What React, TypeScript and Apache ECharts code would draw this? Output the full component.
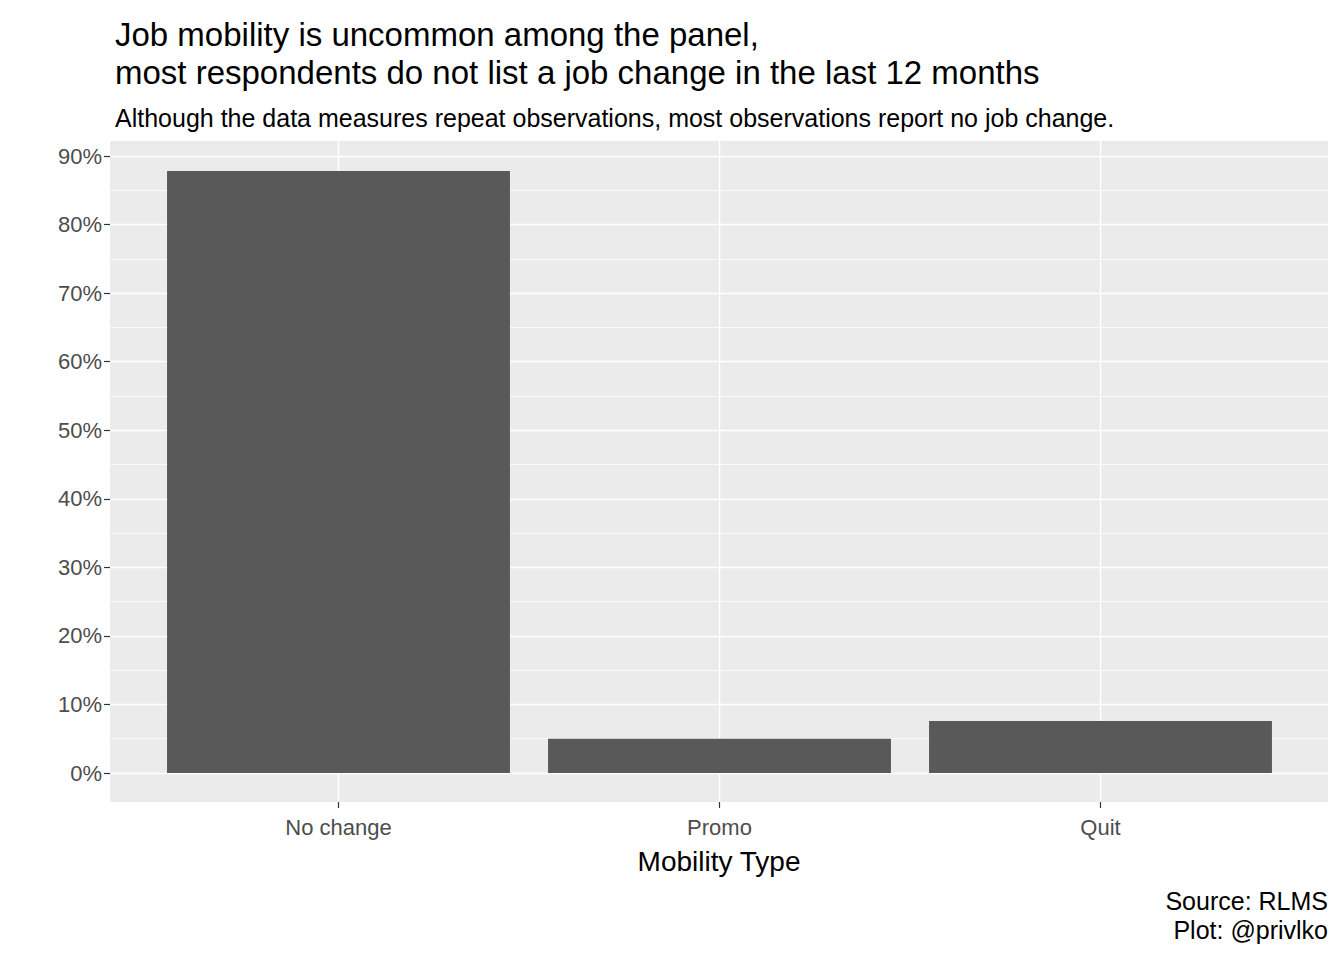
import React, { useEffect, useRef } from "react";
import * as echarts from "echarts";

const categories = ["No change", "Promo", "Quit"];
const shares = [87.8, 5.0, 7.6];
const yTicks = [0, 10, 20, 30, 40, 50, 60, 70, 80, 90];

const FONT = "'Liberation Sans', Arial, sans-serif";

export default function App() {
  const chartRef = useRef<HTMLDivElement>(null);

  useEffect(() => {
    if (!chartRef.current) return;
    const chart = echarts.init(chartRef.current, undefined, { renderer: "svg" });

    chart.setOption({
      animation: false,
      textStyle: { fontFamily: FONT },
      title: [
        {
          text: "Job mobility is uncommon among the panel,\nmost respondents do not list a job change in the last 12 months",
          left: 110,
          top: 10,
          textStyle: { fontSize: 33, fontWeight: "normal", color: "#000", lineHeight: 38, fontFamily: FONT },
        },
        {
          text: "Although the data measures repeat observations, most observations report no job change.",
          left: 110,
          top: 100,
          textStyle: { fontSize: 25, fontWeight: "normal", color: "#000", fontFamily: FONT },
        },
      ],
      graphic: [
        {
          type: "rect",
          z: -10,
          shape: { x: 110, y: 141, width: 1218, height: 661 },
          style: { fill: "#EBEBEB" },
          silent: true,
        },
        {
          type: "text",
          x: 719,
          y: 861,
          style: { text: "Mobility Type", fontSize: 28, fill: "#000", align: "center", verticalAlign: "middle", fontFamily: FONT },
        },
        {
          type: "text",
          x: 1328,
          y: 901,
          style: { text: "Source: RLMS", fontSize: 25, fill: "#000", align: "right", verticalAlign: "middle", fontFamily: FONT },
        },
        {
          type: "text",
          x: 1328,
          y: 930,
          style: { text: "Plot: @privlko", fontSize: 25, fill: "#000", align: "right", verticalAlign: "middle", fontFamily: FONT },
        },
      ],
      grid: [
        { left: 110, right: 16, top: 156, bottom: 187 },
        { left: 148, right: 53, top: 156, bottom: 187 },
        { left: 338.5, right: 243.5, top: 141, bottom: 158 },
      ],
      xAxis: [
        { type: "value", gridIndex: 0, show: false, min: 0, max: 1 },
        { type: "category", gridIndex: 1, data: categories, show: false },
        {
          type: "category",
          gridIndex: 2,
          data: categories,
          boundaryGap: false,
          axisLine: { show: true, lineStyle: { color: "#333", opacity: 0 } },
          axisTick: { show: true, length: 6, lineStyle: { color: "#333", width: 1.2 } },
          axisLabel: { color: "#4D4D4D", fontSize: 22, margin: 14, fontFamily: FONT },
          splitLine: { show: true, lineStyle: { color: "#fff", width: 1.4 } },
        },
      ],
      yAxis: [
        {
          type: "value",
          gridIndex: 0,
          min: yTicks[0],
          max: yTicks[yTicks.length - 1],
          interval: 10,
          axisLine: { show: false },
          axisTick: { show: true, length: 6, lineStyle: { color: "#333", width: 1.2 } },
          axisLabel: { color: "#4D4D4D", fontSize: 22, margin: 8, formatter: "{value}%", fontFamily: FONT },
          splitLine: { lineStyle: { color: "#fff", width: 1.4 } },
          minorTick: { show: false, splitNumber: 2 },
          minorSplitLine: { show: true, lineStyle: { color: "#fff", width: 0.7 } },
        },
        { type: "value", gridIndex: 1, min: 0, max: 90, show: false },
        { type: "value", gridIndex: 2, min: 0, max: 1, show: false },
      ],
      series: [
        {
          type: "bar",
          xAxisIndex: 1,
          yAxisIndex: 1,
          data: shares,
          barWidth: "90%",
          z: 3,
          itemStyle: { color: "#595959" },
        },
      ],
    });

    return () => chart.dispose();
  }, []);

  return (
    <div
      ref={chartRef}
      style={{ position: "absolute", left: 0, top: 0, width: 1344, height: 960 }}
    />
  );
}
